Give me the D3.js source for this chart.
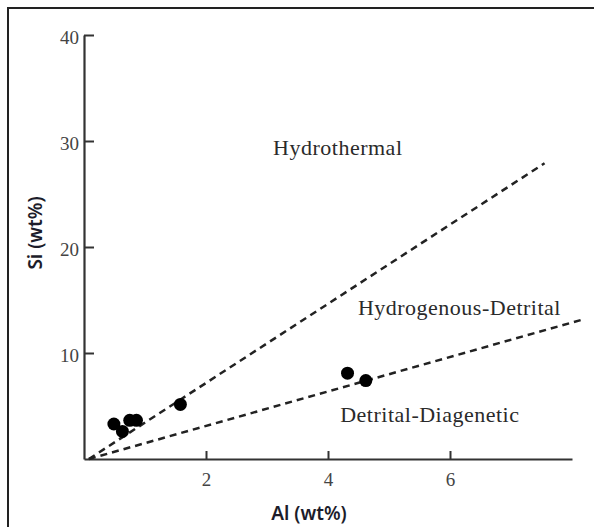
<!DOCTYPE html>
<html>
<head>
<meta charset="utf-8">
<script src="https://cdn.jsdelivr.net/npm/d3@7"></script>
<style>
  body { margin: 0; background: #fff; }
  .tick text { font-family: "Liberation Serif", serif; font-size: 19px; fill: #444; }
  .region { font-family: "Liberation Serif", serif; font-size: 22px; fill: #2a2a2a; letter-spacing: 0.5px; }
  .axis-title { font-family: "Noto Sans", sans-serif; font-size: 19px; font-weight: 600; fill: #1c1c2a; }
</style>
</head>
<body>
<div id="chart"></div>
<script>
// Samples (Al, Si in wt%)
const alValues = [0.49, 0.63, 0.75, 0.86, 1.58, 4.32, 4.62];
const siValues = [3.3, 2.6, 3.65, 3.65, 5.15, 8.1, 7.4];

// Boundary lines between fields: [start, end] in data units
const boundaryNames = ['Hydrothermal / Hydrogenous-Detrital', 'Hydrogenous-Detrital / Detrital-Diagenetic'];
const boundaryAl = [[0.08, 7.55], [0.08, 8.2]];
const boundarySi = [[0, 27.9], [0, 13.2]];

// Field labels
const fieldNames = ['Hydrothermal', 'Hydrogenous-Detrital', 'Detrital-Diagenetic'];
const fieldAl = [3.1, 4.49, 4.2];
const fieldSi = [28.7, 13.6, 3.5];

const xTicks = [2, 4, 6];
const yTicks = [10, 20, 30, 40];

const W = 594, H = 527;
const margin = { top: 35, right: 22, bottom: 68, left: 84 };

const svg = d3.select("#chart")
    .append("svg")
    .attr("width", W)
    .attr("height", H);

// outer frame (cut by the picture edge on right and bottom)
svg.append("rect")
    .attr("x", 8).attr("y", 8)
    .attr("width", 700).attr("height", 700)
    .attr("fill", "none")
    .attr("stroke", "#222")
    .attr("stroke-width", 2);

const x = d3.scaleLinear().domain([0, 8]).range([margin.left, W - margin.right]);
const y = d3.scaleLinear().domain([0, 40]).range([H - margin.bottom, margin.top]);

// X axis, ticks pointing up
const xAxis = svg.append("g")
    .attr("transform", `translate(0,${y(0)})`)
    .call(d3.axisBottom(x).tickValues(xTicks).tickSizeInner(-8).tickSizeOuter(0).tickPadding(6));
xAxis.select(".domain").attr("stroke", "#333").attr("stroke-width", 2.2);
xAxis.selectAll(".tick line").attr("stroke", "#333").attr("stroke-width", 2);
xAxis.selectAll(".tick text").attr("y", 14).attr("dy", "0.71em");

// Y axis, ticks pointing right
const yAxis = svg.append("g")
    .attr("transform", `translate(${x(0)},0)`)
    .call(d3.axisLeft(y).tickValues(yTicks).tickSizeInner(-10).tickSizeOuter(0).tickPadding(6));
yAxis.select(".domain").attr("stroke", "#333").attr("stroke-width", 2.2);
yAxis.selectAll(".tick line").attr("stroke", "#333").attr("stroke-width", 2);
yAxis.selectAll(".tick text").attr("x", -5).attr("dy", "0.45em");

// Dashed boundaries
const line = d3.line().x(d => x(d[0])).y(d => y(d[1]));
boundaryNames.forEach((name, i) => {
    svg.append("path")
        .datum(d3.zip(boundaryAl[i], boundarySi[i]))
        .attr("d", line)
        .attr("fill", "none")
        .attr("stroke", "#222")
        .attr("stroke-width", 2.5)
        .attr("stroke-dasharray", "7,5");
});

// Field labels
svg.selectAll(".region")
    .data(fieldNames)
    .enter()
    .append("text")
    .attr("class", "region")
    .attr("x", (d, i) => x(fieldAl[i]))
    .attr("y", (d, i) => y(fieldSi[i]))
    .text(d => d);

// Points
svg.selectAll(".pt")
    .data(d3.zip(alValues, siValues))
    .enter()
    .append("circle")
    .attr("class", "pt")
    .attr("cx", d => x(d[0]))
    .attr("cy", d => y(d[1]))
    .attr("r", 6.5)
    .attr("fill", "#000");

// Axis titles
svg.append("text")
    .attr("class", "axis-title")
    .attr("x", 309)
    .attr("y", 520)
    .attr("text-anchor", "middle")
    .text("Al (wt%)");

svg.append("text")
    .attr("class", "axis-title")
    .attr("transform", "translate(42,233) rotate(-90)")
    .attr("text-anchor", "middle")
    .text("Si (wt%)");
</script>
</body>
</html>
